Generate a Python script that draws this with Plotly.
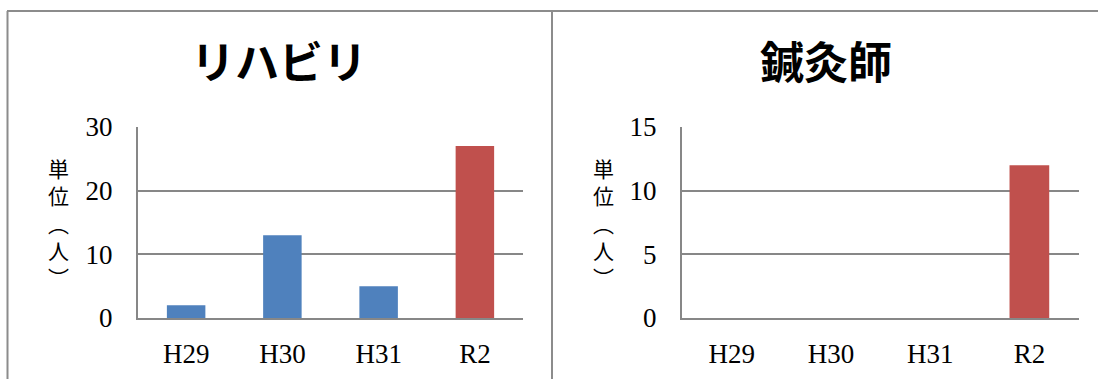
import plotly.graph_objects as go

# Fiscal years on the category axis
years = ["H29", "H30", "H31", "R2"]

# Number of people per year
rehab_counts = [2, 13, 5, 27]
acupuncture_counts = [0, 0, 0, 12]

rehab_title = "リハビリ"
acupuncture_title = "鍼灸師"
unit_label = ["単", "位", "︵", "人", "︶"]

W, H = 1098, 379
BLUE = "#4F81BD"
RED = "#C0504D"
GRID = "#878787"
FRAME = "#8C8C8C"
TICK_FONT = dict(family="Liberation Serif", size=27, color="#000000")
CJK = "Noto Sans CJK JP"


def px_x(x):
    return x / W


def px_y(y):
    return 1 - y / H


def bar_colors(cats):
    return [RED if c == "R2" else BLUE for c in cats]


fig = go.Figure()
fig.add_trace(go.Bar(x=years, y=rehab_counts, marker=dict(color=bar_colors(years), line_width=0),
                     xaxis="x", yaxis="y", showlegend=False))
fig.add_trace(go.Bar(x=years, y=acupuncture_counts, marker=dict(color=bar_colors(years), line_width=0),
                     xaxis="x2", yaxis="y2", showlegend=False))

plot_top, plot_bottom = 127, 318
xaxis_common = dict(type="category", showgrid=False, zeroline=False, showline=True,
                    linecolor=GRID, linewidth=2, ticks="", tickfont=TICK_FONT,
                    ticklabelstandoff=11, fixedrange=True, automargin=False)
yaxis_common = dict(showgrid=True, gridcolor=GRID, gridwidth=2, zeroline=False, showline=True,
                    linecolor=GRID, linewidth=2, ticks="", tickfont=TICK_FONT,
                    ticklabelstandoff=18, fixedrange=True, automargin=False)

fig.update_layout(
    width=W, height=H,
    autosize=False,
    margin=dict(l=0, r=0, t=0, b=0, pad=0, autoexpand=False),
    paper_bgcolor="white", plot_bgcolor="white",
    bargap=0.6,
    xaxis=dict(domain=[px_x(138), px_x(523)], anchor="y", **xaxis_common),
    yaxis=dict(domain=[px_y(plot_bottom), px_y(plot_top)], anchor="x", range=[0, 30], dtick=10,
               **yaxis_common),
    xaxis2=dict(domain=[px_x(682), px_x(1079)], anchor="y2", **xaxis_common),
    yaxis2=dict(domain=[px_y(plot_bottom), px_y(plot_top)], anchor="x2", range=[0, 15], dtick=5,
                **yaxis_common),
)

# Panel titles
for text, cx in [(rehab_title, 279), (acupuncture_title, 826)]:
    fig.add_annotation(text=f"<b>{text}</b>", x=px_x(cx), y=px_y(60), xref="paper", yref="paper",
                       xanchor="center", yanchor="middle", showarrow=False,
                       font=dict(family=CJK, size=44, color="#000000"))

# Vertical unit label next to each value axis
for cx in [58, 603]:
    fig.add_annotation(text="<br>".join(unit_label), x=px_x(cx), y=px_y(222), xref="paper", yref="paper",
                       xanchor="center", yanchor="middle", showarrow=False,
                       font=dict(family=CJK, size=21, color="#000000"))

# Frame lines around and between the panels
frame = dict(type="line", xref="paper", yref="paper", line=dict(color=FRAME, width=2))
fig.add_shape(x0=px_x(7), x1=1, y0=px_y(11), y1=px_y(11), **frame)
fig.add_shape(x0=px_x(7.5), x1=px_x(7.5), y0=px_y(11), y1=0, **frame)
fig.add_shape(x0=px_x(552), x1=px_x(552), y0=px_y(11), y1=0, **frame)

fig.write_html("out.html", config={"responsive": False})
